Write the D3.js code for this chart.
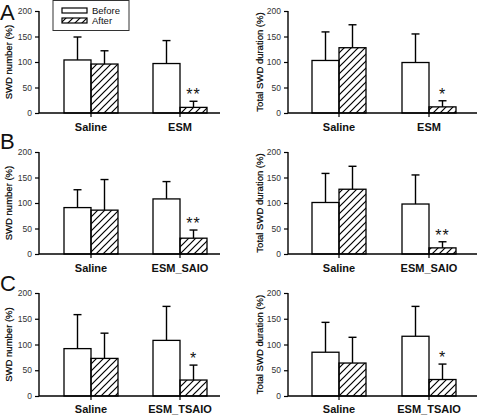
<!DOCTYPE html>
<html>
<head>
<meta charset="utf-8">
<script src="https://cdn.jsdelivr.net/npm/d3@7"></script>
<style>
html,body{margin:0;padding:0;background:#fff;}
svg{display:block;font-family:"Liberation Sans",Arial,sans-serif;}
</style>
</head>
<body>
<svg id="chart" width="481" height="417"></svg>
<script>
// ---- data ----
const series = ["Before", "After"];
const categoriesA = ["Saline", "ESM"];
const categoriesB = ["Saline", "ESM_SAIO"];
const categoriesC = ["Saline", "ESM_TSAIO"];
const yTicks = [0, 50, 100, 150, 200];

// means [category][series], errors (upper SD) [category][series]
const numberA = [[104, 96], [97, 11]];
const numberAErr = [[45, 26], [45, 12]];
const durationA = [[103, 128], [99, 12]];
const durationAErr = [[56, 45], [56, 12]];
const numberB = [[91, 86], [108, 31]];
const numberBErr = [[35, 60], [34, 16]];
const durationB = [[101, 127], [98, 12]];
const durationBErr = [[57, 45], [57, 12]];
const numberC = [[92, 73], [108, 31]];
const numberCErr = [[66, 49], [66, 29]];
const durationC = [[85, 64], [116, 32]];
const durationCErr = [[58, 50], [58, 30]];
// significance marks on the "After" bar of second category
const starsNumber = ["**", "**", "*"];
const starsDuration = ["*", "**", "*"];
const panelLetters = ["A", "B", "C"];
const yLabels = ["SWD number (%)", "Total SWD duration (%)"];

// ---- layout ----
const svg = d3.select("#chart");
const defs = svg.append("defs");
const pat = defs.append("pattern").attr("id", "hatch")
  .attr("patternUnits", "userSpaceOnUse").attr("width", 7).attr("height", 7);
pat.append("path").attr("d", "M-1,1 l2,-2 M0,7 l7,-7 M6,8 l2,-2")
  .attr("stroke", "#000").attr("stroke-width", 1.2);

const rows = [
  {y0: 113, y1: 11, cats: categoriesA, data: [[numberA, numberAErr], [durationA, durationAErr]], labelY: 131, letterY: 20},
  {y0: 254, y1: 152, cats: categoriesB, data: [[numberB, numberBErr], [durationB, durationBErr]], labelY: 272, letterY: 149},
  {y0: 396, y1: 293, cats: categoriesC, data: [[numberC, numberCErr], [durationC, durationCErr]], labelY: 413, letterY: 291}
];
const cols = [
  {axisX: 39, endX: 220, range: [46.5, 224.5], ylabX: 12},
  {axisX: 288, endX: 477, range: [294, 474], ylabX: 263}
];
const starsCols = [starsNumber, starsDuration];
const barW = 27;

rows.forEach((row, ri) => {
  cols.forEach((col, ci) => {
    const [means, errs] = row.data[ci];
    const g = svg.append("g");
    const y = d3.scaleLinear().domain([0, 200]).range([row.y0, row.y1]);
    const x0 = d3.scaleBand().domain(row.cats).range(col.range).padding(0);
    const x1 = d3.scaleBand().domain(series)
      .range([x0.bandwidth() / 2 - barW, x0.bandwidth() / 2 + barW]).padding(0);

    // y axis
    const yAxis = d3.axisLeft(y).tickValues(yTicks).tickSize(4).tickPadding(3);
    const ya = g.append("g").attr("transform", `translate(${col.axisX},0)`).call(yAxis);
    ya.select(".domain").attr("stroke", "#000").attr("stroke-width", 1.4).attr("d", `M0,${row.y0}V${row.y1}`);
    ya.selectAll(".tick line").attr("stroke", "#000").attr("stroke-width", 1.2);
    ya.selectAll(".tick text").attr("font-size", 8.5).attr("fill", "#333")
      .attr("font-family", "'Liberation Sans',Arial,sans-serif");

    // bars
    row.cats.forEach((cat, k) => {
      series.forEach((s, si) => {
        const v = means[k][si], e = errs[k][si];
        const bx = x0(cat) + x1(s);
        const cx = bx + x1.bandwidth() / 2;
        // error bar
        g.append("line").attr("x1", cx).attr("x2", cx).attr("y1", y(v)).attr("y2", y(v + e))
          .attr("stroke", "#000").attr("stroke-width", 1.4);
        g.append("line").attr("x1", cx - 4).attr("x2", cx + 4).attr("y1", y(v + e)).attr("y2", y(v + e))
          .attr("stroke", "#000").attr("stroke-width", 1.4);
        g.append("rect").attr("x", bx).attr("y", y(v)).attr("width", x1.bandwidth())
          .attr("height", y(0) - y(v))
          .attr("fill", si === 0 ? "#fff" : "url(#hatch)")
          .attr("stroke", "#000").attr("stroke-width", 1.3);
        if (k === 1 && si === 1) {
          g.append("text").attr("x", cx).attr("y", y(v + e) - 1)
            .attr("text-anchor", "middle").attr("font-size", 16).attr("fill", "#111")
            .attr("letter-spacing", 1)
            .text(starsCols[ci][ri]);
        }
      });
    });

    // x axis
    const xAxis = d3.axisBottom(x0).tickSize(4).tickPadding(8);
    const xa = g.append("g").attr("transform", `translate(0,${row.y0})`).call(xAxis);
    xa.select(".domain").attr("stroke", "#000").attr("stroke-width", 1.4).attr("d", `M${col.axisX},0H${col.endX}`);
    xa.selectAll(".tick line").attr("stroke", "#000").attr("stroke-width", 1.2);
    xa.selectAll(".tick text").attr("font-size", 11).attr("font-weight", "bold").attr("fill", "#111")
      .attr("font-family", "'Liberation Sans',Arial,sans-serif").attr("dy", null)
      .attr("y", row.labelY - row.y0);

    // y label
    g.append("text").attr("transform", `translate(${col.ylabX},${(row.y0 + row.y1) / 2}) rotate(-90)`)
      .attr("text-anchor", "middle").attr("font-size", 9.5).attr("fill", "#000")
      .attr("stroke", "#000").attr("stroke-width", 0.2)
      .text(yLabels[ci]);
  });
  // panel letter
  svg.append("text").attr("x", 0).attr("y", row.letterY).attr("font-size", 22).attr("fill", "#111")
    .text(panelLetters[ri]);
});

// legend
const lg = svg.append("g");
lg.append("rect").attr("x", 53).attr("y", 0.5).attr("width", 76).attr("height", 30)
  .attr("fill", "#fff").attr("stroke", "#333").attr("stroke-width", 1);
series.forEach((s, i) => {
  lg.append("rect").attr("x", 62).attr("y", 8 + i * 10).attr("width", 25).attr("height", 5)
    .attr("fill", i === 0 ? "#fff" : "url(#hatch)").attr("stroke", "#000").attr("stroke-width", 1.2);
  lg.append("text").attr("x", 92).attr("y", 14 + i * 10).attr("font-size", 9.5).attr("fill", "#111").text(s);
});
</script>
</body>
</html>
